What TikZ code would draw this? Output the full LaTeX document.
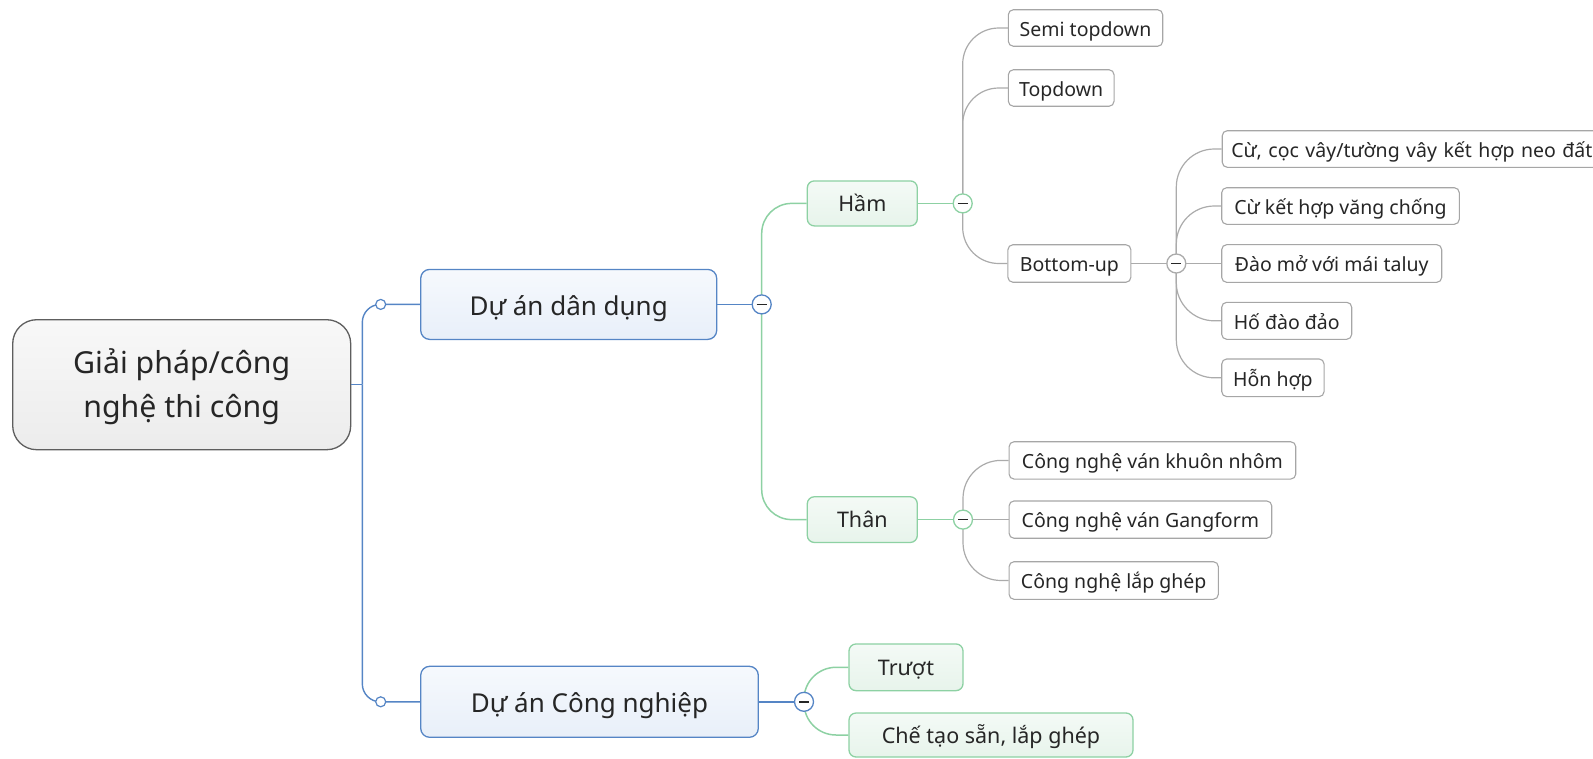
\documentclass[tikz,border=0pt]{standalone}
\usepackage{fontspec}
\setmainfont{Noto Sans}
\definecolor{txt}{HTML}{262626}
\definecolor{rootline}{HTML}{5E5E5E}
\definecolor{roottop}{HTML}{F8F8F8}
\definecolor{rootbot}{HTML}{ECECEC}
\definecolor{blueline}{HTML}{5585C5}
\definecolor{bluetop}{HTML}{F6F9FD}
\definecolor{bluebot}{HTML}{E8EFF9}
\definecolor{greenline}{HTML}{8DD1A3}
\definecolor{greentop}{HTML}{F4FAF6}
\definecolor{greenbot}{HTML}{E7F4EB}
\definecolor{grayline}{HTML}{ABABAB}
\definecolor{grayborder}{HTML}{A6A6A6}
\begin{document}
\begin{tikzpicture}[x=1pt,y=-1pt,
 rootbox/.style={draw=rootline, top color=roottop, bottom color=rootbot, rounded corners=24pt, line width=1.3pt, minimum width=338pt, minimum height=130pt, align=center, text=txt, text depth=4pt, font=\fontsize{30.3}{44}\selectfont},
 bluebox/.style={draw=blueline, top color=bluetop, bottom color=bluebot, rounded corners=9pt, line width=1.3pt, minimum height=70pt, text=txt, text height=24pt, text depth=2.8pt, font=\fontsize{26}{31}\selectfont},
 greenbox/.style={draw=greenline, top color=greentop, bottom color=greenbot, rounded corners=7pt, line width=1.3pt, text=txt, text height=21pt, text depth=4.4pt, font=\fontsize{21.5}{26}\selectfont},
 graybox/.style={draw=grayborder, fill=white, rounded corners=5pt, line width=1.1pt, minimum height=37pt, text=txt, text height=20.5pt, text depth=3.9pt, font=\fontsize{19.5}{23}\selectfont},
 bl/.style={draw=blueline, line width=1.4pt},
 gl/.style={draw=greenline, line width=1.5pt},
 yl/.style={draw=grayline, line width=1.2pt},
 tog/.style={circle, minimum size=19pt, inner sep=0pt, fill=white, line width=1.3pt},
 minus/.style={line width=1.7pt, draw=txt},
 ]
\useasboundingbox (0,0) rectangle (1593,758);

% boxes
\node[rootbox] (root) at (181.7,384.7) {Giải pháp/công\\nghệ thi công};
\node[bluebox, minimum width=296pt] (dan) at (568.7,304.4) {Dự án dân dụng};
\node[bluebox, minimum width=337.6pt, minimum height=71pt] (cn) at (589.5,701.8) {Dự án Công nghiệp};
\node[greenbox, minimum width=110pt, minimum height=45pt] (ham) at (862.3,203.4) {Hầm};
\node[greenbox, minimum width=110pt, minimum height=45.7pt] (than) at (862.3,519.6) {Thân};
\node[greenbox, minimum width=114pt, minimum height=46.7pt] (truot) at (906,667.3) {Trượt};
\node[greenbox, minimum width=284pt, minimum height=44pt] (che) at (991,735) {Chế tạo sẵn, lắp ghép};
\node[graybox, minimum width=154.4pt, minimum height=36.5pt] (semi) at (1085.5,28) {Semi topdown};
\node[graybox, minimum width=105.7pt, minimum height=36.5pt] (topd) at (1061.2,88) {Topdown};
\node[graybox, minimum width=123pt, minimum height=37.5pt] (bu) at (1069.4,263.5) {Bottom-up};
\node[graybox, anchor=west, text width=372pt, align=left, inner xsep=9pt, minimum height=36.6pt] (cu1) at (1221.7,149) {Cừ, cọc vây/tường vây kết hợp neo đất};
\node[graybox, minimum width=237.6pt, minimum height=36.6pt] (cu2) at (1340.5,206) {Cừ kết hợp văng chống};
\node[graybox, minimum width=220pt, minimum height=37.7pt] (dao) at (1331.7,263.5) {Đào mở với mái taluy};
\node[graybox, minimum width=130pt] (ho) at (1286.7,320.8) {Hố đào đảo};
\node[graybox, minimum width=102.3pt, minimum height=37.7pt] (hon) at (1272.9,377.8) {Hỗn hợp};
\node[graybox, minimum width=286.7pt, minimum height=37.3pt] (nhom) at (1152.4,460.4) {Công nghệ ván khuôn nhôm};
\node[graybox, minimum width=262.7pt, minimum height=37.3pt] (gang) at (1140.4,519.6) {Công nghệ ván Gangform};
\node[graybox, minimum width=209.3pt, minimum height=37.6pt] (lap) at (1113.7,580.5) {Công nghệ lắp ghép};

% junction points
\coordinate (tr) at (362.3,384.7);
\coordinate (s1p) at (380.7,304.4);
\coordinate (s2p) at (380.7,701.8);
\coordinate (cdp) at (761.7,304.4);
\coordinate (ccp) at (804,701.8);
\coordinate (chp) at (962.7,203.4);
\coordinate (cbp) at (1176.3,263.5);
\coordinate (ctp) at (963,519.6);

% connectors
\draw[bl] (root.east) -- (tr);
\draw[bl, rounded corners=18pt] (tr) |- (dan.west);
\draw[bl, rounded corners=18pt] (tr) |- (cn.west);
\draw[bl] (dan.east) -- (cdp);
\draw[bl] (cn.east) -- (ccp);
\draw[gl, rounded corners=30pt] (cdp) |- (ham.west);
\draw[gl, rounded corners=30pt] (cdp) |- (than.west);
\draw[gl, rounded corners=32pt] (ccp) |- (truot.west);
\draw[gl, rounded corners=32pt] (ccp) |- (che.west);
\draw[gl] (ham.east) -- (chp);
\draw[gl] (than.east) -- (ctp);
\draw[yl, rounded corners=36pt] (chp) |- (semi.west);
\draw[yl, rounded corners=36pt] (chp) |- (topd.west);
\draw[yl, rounded corners=36pt] (chp) |- (bu.west);
\draw[yl] (bu.east) -- (cbp);
\draw[yl, rounded corners=38pt] (cbp) |- (cu1.west);
\draw[yl, rounded corners=38pt] (cbp) |- (cu2.west);
\draw[yl] (cbp) -- (dao.west);
\draw[yl, rounded corners=38pt] (cbp) |- (ho.west);
\draw[yl, rounded corners=38pt] (cbp) |- (hon.west);
\draw[yl, rounded corners=38pt] (ctp) |- (nhom.west);
\draw[yl] (ctp) -- (gang.west);
\draw[yl, rounded corners=38pt] (ctp) |- (lap.west);

% toggles
\node[tog, minimum size=10pt, draw=blueline, line width=1.2pt] (s1) at (s1p) {};
\node[tog, minimum size=10pt, draw=blueline, line width=1.2pt] (s2) at (s2p) {};
\node[tog, draw=blueline] (cd) at (cdp) {};
\node[tog, draw=blueline] (cc) at (ccp) {};
\node[tog, draw=greenline] (ch) at (chp) {};
\node[tog, draw=greenline] (ct) at (ctp) {};
\node[tog, draw=grayline] (cb) at (cbp) {};
\foreach \c in {cd,cc,ch,ct,cb}
  \draw[minus] ([xshift=-5pt]\c.center) -- ([xshift=5pt]\c.center);
\end{tikzpicture}
\end{document}
